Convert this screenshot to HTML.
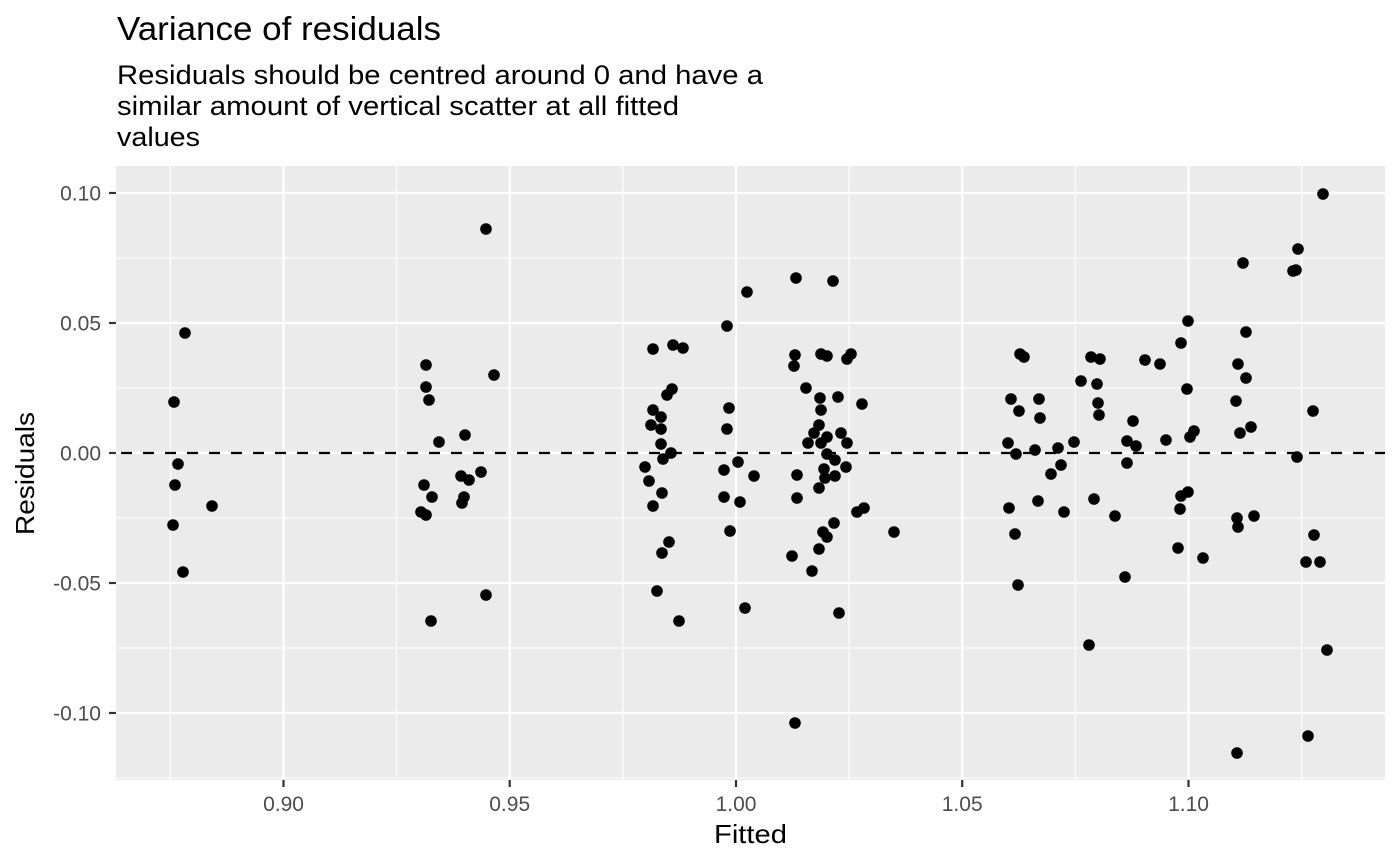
<!DOCTYPE html>
<html><head><meta charset="utf-8"><style>
html,body{margin:0;padding:0;background:#fff;}
svg{display:block;font-family:"Liberation Sans",Arial,sans-serif;}
</style></head><body>
<svg width="1400" height="865" viewBox="0 0 1400 865" xmlns="http://www.w3.org/2000/svg">
<rect width="1400" height="865" fill="#fff"/>
<text x="117" y="40" font-size="33" fill="#000" textLength="324" lengthAdjust="spacingAndGlyphs">Variance of residuals</text>
<text x="117" y="84" font-size="27" fill="#000" textLength="646" lengthAdjust="spacingAndGlyphs">Residuals should be centred around 0 and have a</text>
<text x="117" y="115" font-size="27" fill="#000" textLength="562" lengthAdjust="spacingAndGlyphs">similar amount of vertical scatter at all fitted</text>
<text x="117" y="146" font-size="27" fill="#000" textLength="83" lengthAdjust="spacingAndGlyphs">values</text>
<rect x="116" y="166" width="1269" height="614" fill="#ebebeb"/>
<g stroke="#fff" stroke-width="1.1">
<line x1="116" x2="1385" y1="258" y2="258"/><line x1="116" x2="1385" y1="388" y2="388"/><line x1="116" x2="1385" y1="518" y2="518"/><line x1="116" x2="1385" y1="648" y2="648"/><line x1="116" x2="1385" y1="778" y2="778"/>
<line y1="166" y2="780" x1="170.4" x2="170.4"/><line y1="166" y2="780" x1="396.6" x2="396.6"/><line y1="166" y2="780" x1="622.9" x2="622.9"/><line y1="166" y2="780" x1="849" x2="849"/><line y1="166" y2="780" x1="1075.3" x2="1075.3"/><line y1="166" y2="780" x1="1301.6" x2="1301.6"/>
</g>
<g stroke="#fff" stroke-width="2.2">
<line x1="116" x2="1385" y1="193" y2="193"/><line x1="116" x2="1385" y1="323" y2="323"/><line x1="116" x2="1385" y1="453" y2="453"/><line x1="116" x2="1385" y1="583" y2="583"/><line x1="116" x2="1385" y1="713" y2="713"/>
<line y1="166" y2="780" x1="283.5" x2="283.5"/><line y1="166" y2="780" x1="509.7" x2="509.7"/><line y1="166" y2="780" x1="736" x2="736"/><line y1="166" y2="780" x1="962.2" x2="962.2"/><line y1="166" y2="780" x1="1188.5" x2="1188.5"/>
</g>
<line x1="116" x2="1385" y1="453" y2="453" stroke="#000" stroke-width="2.2" stroke-dasharray="11,11" stroke-dashoffset="-5"/>
<g fill="#000">
<circle cx="185" cy="333" r="5.8"/><circle cx="174" cy="402" r="5.8"/><circle cx="178" cy="464" r="5.8"/><circle cx="175" cy="485" r="5.8"/><circle cx="212" cy="506" r="5.8"/><circle cx="173" cy="525" r="5.8"/><circle cx="183" cy="572" r="5.8"/>
<circle cx="486" cy="229" r="5.8"/><circle cx="426" cy="365" r="5.8"/><circle cx="494" cy="375" r="5.8"/><circle cx="426" cy="387" r="5.8"/><circle cx="429" cy="400" r="5.8"/><circle cx="465" cy="435" r="5.8"/><circle cx="439" cy="442" r="5.8"/><circle cx="481" cy="472" r="5.8"/><circle cx="461" cy="476" r="5.8"/><circle cx="469" cy="480" r="5.8"/><circle cx="424" cy="485" r="5.8"/><circle cx="432" cy="497" r="5.8"/><circle cx="464" cy="497" r="5.8"/><circle cx="462" cy="503" r="5.8"/><circle cx="421" cy="512" r="5.8"/><circle cx="426" cy="515" r="5.8"/><circle cx="486" cy="595" r="5.8"/><circle cx="431" cy="621" r="5.8"/>
<circle cx="796" cy="278" r="5.8"/><circle cx="833" cy="281" r="5.8"/><circle cx="747" cy="292" r="5.8"/><circle cx="727" cy="326" r="5.8"/><circle cx="653" cy="349" r="5.8"/><circle cx="673" cy="345" r="5.8"/><circle cx="683" cy="348" r="5.8"/><circle cx="795" cy="355" r="5.8"/><circle cx="794" cy="366" r="5.8"/><circle cx="821" cy="354" r="5.8"/><circle cx="827" cy="356" r="5.8"/><circle cx="851" cy="354" r="5.8"/><circle cx="847" cy="359" r="5.8"/><circle cx="806" cy="388" r="5.8"/><circle cx="672" cy="389" r="5.8"/><circle cx="667" cy="395" r="5.8"/><circle cx="820" cy="398" r="5.8"/><circle cx="838" cy="397" r="5.8"/><circle cx="862" cy="404" r="5.8"/><circle cx="729" cy="408" r="5.8"/><circle cx="821" cy="410" r="5.8"/><circle cx="653" cy="410" r="5.8"/><circle cx="661" cy="417" r="5.8"/><circle cx="651" cy="425" r="5.8"/><circle cx="661" cy="429" r="5.8"/><circle cx="819" cy="425" r="5.8"/><circle cx="727" cy="429" r="5.8"/><circle cx="814" cy="433" r="5.8"/><circle cx="827" cy="437" r="5.8"/><circle cx="841" cy="433" r="5.8"/><circle cx="847" cy="443" r="5.8"/><circle cx="808" cy="443" r="5.8"/><circle cx="821" cy="443" r="5.8"/><circle cx="661" cy="444" r="5.8"/><circle cx="671" cy="453" r="5.8"/><circle cx="663" cy="459" r="5.8"/><circle cx="827" cy="454" r="5.8"/><circle cx="835" cy="460" r="5.8"/><circle cx="645" cy="467" r="5.8"/><circle cx="738" cy="462" r="5.8"/><circle cx="724" cy="470" r="5.8"/><circle cx="846" cy="467" r="5.8"/><circle cx="824" cy="469" r="5.8"/><circle cx="754" cy="476" r="5.8"/><circle cx="797" cy="475" r="5.8"/><circle cx="835" cy="476" r="5.8"/><circle cx="825" cy="478" r="5.8"/><circle cx="649" cy="481" r="5.8"/><circle cx="819" cy="488" r="5.8"/><circle cx="662" cy="493" r="5.8"/><circle cx="724" cy="497" r="5.8"/><circle cx="797" cy="498" r="5.8"/><circle cx="740" cy="502" r="5.8"/><circle cx="653" cy="506" r="5.8"/><circle cx="857" cy="512" r="5.8"/><circle cx="864" cy="508" r="5.8"/><circle cx="730" cy="531" r="5.8"/><circle cx="834" cy="523" r="5.8"/><circle cx="823" cy="532" r="5.8"/><circle cx="827" cy="537" r="5.8"/><circle cx="894" cy="532" r="5.8"/><circle cx="669" cy="542" r="5.8"/><circle cx="662" cy="553" r="5.8"/><circle cx="819" cy="549" r="5.8"/><circle cx="792" cy="556" r="5.8"/><circle cx="812" cy="571" r="5.8"/><circle cx="657" cy="591" r="5.8"/><circle cx="745" cy="608" r="5.8"/><circle cx="839" cy="613" r="5.8"/><circle cx="679" cy="621" r="5.8"/><circle cx="795" cy="723" r="5.8"/>
<circle cx="1188" cy="321" r="5.8"/><circle cx="1181" cy="343" r="5.8"/><circle cx="1020" cy="354" r="5.8"/><circle cx="1024" cy="357" r="5.8"/><circle cx="1091" cy="357" r="5.8"/><circle cx="1100" cy="359" r="5.8"/><circle cx="1145" cy="360" r="5.8"/><circle cx="1160" cy="364" r="5.8"/><circle cx="1081" cy="381" r="5.8"/><circle cx="1097" cy="384" r="5.8"/><circle cx="1187" cy="389" r="5.8"/><circle cx="1011" cy="399" r="5.8"/><circle cx="1039" cy="399" r="5.8"/><circle cx="1098" cy="403" r="5.8"/><circle cx="1019" cy="411" r="5.8"/><circle cx="1040" cy="418" r="5.8"/><circle cx="1099" cy="415" r="5.8"/><circle cx="1133" cy="421" r="5.8"/><circle cx="1194" cy="431" r="5.8"/><circle cx="1190" cy="437" r="5.8"/><circle cx="1008" cy="443" r="5.8"/><circle cx="1074" cy="442" r="5.8"/><circle cx="1127" cy="441" r="5.8"/><circle cx="1136" cy="446" r="5.8"/><circle cx="1166" cy="440" r="5.8"/><circle cx="1016" cy="454" r="5.8"/><circle cx="1035" cy="450" r="5.8"/><circle cx="1058" cy="448" r="5.8"/><circle cx="1061" cy="465" r="5.8"/><circle cx="1127" cy="463" r="5.8"/><circle cx="1051" cy="474" r="5.8"/><circle cx="1009" cy="508" r="5.8"/><circle cx="1038" cy="501" r="5.8"/><circle cx="1064" cy="512" r="5.8"/><circle cx="1094" cy="499" r="5.8"/><circle cx="1115" cy="516" r="5.8"/><circle cx="1181" cy="496" r="5.8"/><circle cx="1188" cy="492" r="5.8"/><circle cx="1180" cy="509" r="5.8"/><circle cx="1015" cy="534" r="5.8"/><circle cx="1178" cy="548" r="5.8"/><circle cx="1203" cy="558" r="5.8"/><circle cx="1018" cy="585" r="5.8"/><circle cx="1125" cy="577" r="5.8"/><circle cx="1089" cy="645" r="5.8"/>
<circle cx="1323" cy="194" r="5.8"/><circle cx="1298" cy="249" r="5.8"/><circle cx="1243" cy="263" r="5.8"/><circle cx="1293" cy="271" r="5.8"/><circle cx="1296" cy="270" r="5.8"/><circle cx="1246" cy="332" r="5.8"/><circle cx="1238" cy="364" r="5.8"/><circle cx="1246" cy="378" r="5.8"/><circle cx="1236" cy="401" r="5.8"/><circle cx="1313" cy="411" r="5.8"/><circle cx="1240" cy="433" r="5.8"/><circle cx="1251" cy="427" r="5.8"/><circle cx="1297" cy="457" r="5.8"/><circle cx="1237" cy="518" r="5.8"/><circle cx="1238" cy="527" r="5.8"/><circle cx="1254" cy="516" r="5.8"/><circle cx="1314" cy="535" r="5.8"/><circle cx="1306" cy="562" r="5.8"/><circle cx="1320" cy="562" r="5.8"/><circle cx="1327" cy="650" r="5.8"/><circle cx="1308" cy="736" r="5.8"/><circle cx="1237" cy="753" r="5.8"/>
</g>
<g stroke="#333" stroke-width="2.2">
<line x1="109" x2="116" y1="193" y2="193"/><line x1="109" x2="116" y1="323" y2="323"/><line x1="109" x2="116" y1="453" y2="453"/><line x1="109" x2="116" y1="583" y2="583"/><line x1="109" x2="116" y1="713" y2="713"/>
<line y1="780" y2="787" x1="283.5" x2="283.5"/><line y1="780" y2="787" x1="509.7" x2="509.7"/><line y1="780" y2="787" x1="736" x2="736"/><line y1="780" y2="787" x1="962.2" x2="962.2"/><line y1="780" y2="787" x1="1188.5" x2="1188.5"/>
</g>
<g font-size="21" fill="#4d4d4d" text-anchor="end">
<text x="101" y="200.5">0.10</text><text x="101" y="330.5">0.05</text><text x="101" y="460.5">0.00</text><text x="101" y="590.5">-0.05</text><text x="101" y="720.5">-0.10</text>
</g>
<g font-size="21" fill="#4d4d4d" text-anchor="middle">
<text x="283.5" y="811">0.90</text><text x="509.7" y="811">0.95</text><text x="736" y="811">1.00</text><text x="962.2" y="811">1.05</text><text x="1188.5" y="811">1.10</text>
</g>
<text x="714" y="843" font-size="26" fill="#000" textLength="73" lengthAdjust="spacingAndGlyphs">Fitted</text>
<text transform="translate(34,535) rotate(-90)" font-size="26" fill="#000" textLength="123" lengthAdjust="spacingAndGlyphs">Residuals</text>
</svg>
</body></html>
